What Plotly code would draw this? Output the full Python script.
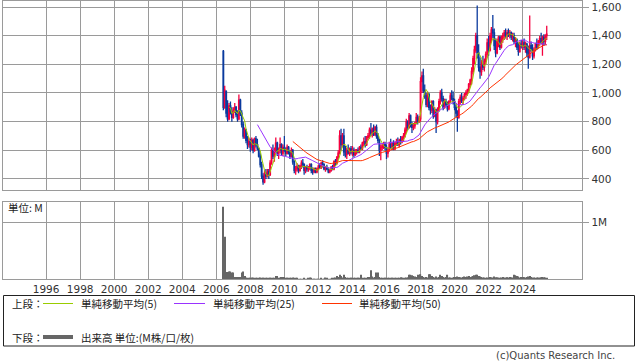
import pandas as pd
import plotly.graph_objects as go

# ---------------- data (monthly, Jun 2006 - Jun 2025) ----------------
start_month = "2006-06-01"
n_months = 229

opens = [
    # 2006 Jun-Dec
    1290, 900, 1010, 860, 820, 910, 870,
    # 2007
    830, 880, 900, 850, 820, 950, 860, 780, 700, 740, 670, 640,
    # 2008
    660, 620, 670, 600, 680, 640, 610, 560, 500, 420, 380, 440,
    # 2009
    420, 450, 430, 510, 600, 560, 590, 650, 580, 600, 640, 580,
    # 2010
    620, 600, 580, 620, 590, 560, 600, 520, 460, 470, 490, 460,
    # 2011
    490, 510, 500, 460, 480, 470, 480, 500, 460, 450, 470, 450,
    # 2012
    470, 490, 480, 510, 500, 470, 480, 470, 450, 460, 480, 470,
    # 2013
    520, 510, 550, 580, 700, 640, 700, 590, 570, 600, 580, 610,
    # 2014
    590, 600, 570, 590, 600, 590, 620, 610, 650, 660, 640, 690,
    # 2015
    700, 740, 720, 750, 710, 760, 700, 670, 600, 620, 630, 640,
    # 2016
    620, 580, 600, 640, 620, 650, 610, 650, 660, 640, 670, 660,
    # 2017
    690, 700, 740, 800, 760, 840, 780, 760, 770, 790, 830, 800,
    # 2018
    820, 1080, 1120, 1020, 980, 920, 990, 900, 880, 940, 840, 880,
    # 2019
    800, 880, 940, 1000, 960, 900, 940, 920, 890, 940, 980, 960,
    # 2020
    940, 900, 860, 830, 940, 970, 950, 960, 990, 1000, 1020, 1060,
    # 2021
    1090, 1150, 1240, 1300, 1400, 1280, 1180, 1150, 1200, 1180, 1220, 1270,
    # 2022
    1350, 1300, 1400, 1440, 1420, 1330, 1280, 1360, 1390, 1320, 1380, 1400,
    # 2023
    1420, 1400, 1420, 1410, 1420, 1390, 1400, 1360, 1370, 1320, 1290, 1340,
    # 2024
    1330, 1350, 1320, 1340, 1300, 1250, 1330, 1310, 1260, 1300, 1340, 1320,
    # 2025 Jan-Jun
    1360, 1380, 1350, 1390, 1360, 1400,
]
highs = [
    1300, 1050, 1020, 950, 930, 940, 900,
    900, 930, 910, 880, 990, 960, 880, 800, 760, 750, 700, 690,
    680, 690, 680, 690, 700, 680, 620, 580, 520, 440, 460, 470,
    470, 470, 530, 620, 640, 620, 690, 660, 620, 690, 650, 640,
    700, 620, 640, 630, 600, 620, 610, 530, 490, 510, 500, 500,
    530, 540, 510, 490, 500, 490, 510, 510, 480, 480, 480, 480,
    500, 510, 520, 530, 510, 490, 500, 480, 470, 490, 500, 530,
    540, 560, 600, 740, 750, 720, 750, 630, 620, 640, 620, 630,
    630, 620, 610, 610, 620, 630, 640, 660, 690, 700, 700, 720,
    760, 790, 760, 780, 770, 780, 720, 680, 640, 650, 660, 660,
    640, 620, 660, 680, 660, 670, 660, 680, 690, 680, 700, 700,
    720, 760, 820, 810, 860, 850, 800, 790, 800, 860, 850, 840,
    1110, 1150, 1170, 1060, 1000, 1010, 1000, 920, 950, 950, 900, 890,
    900, 960, 1020, 1030, 980, 960, 960, 940, 950, 1000, 1020, 1010,
    960, 920, 880, 960, 990, 1000, 980, 1000, 1020, 1030, 1070, 1100,
    1180, 1260, 1330, 1420, 1610, 1340, 1250, 1230, 1260, 1240, 1290, 1380,
    1400, 1420, 1460, 1545, 1450, 1380, 1380, 1400, 1400, 1400, 1420, 1440,
    1450, 1440, 1450, 1440, 1430, 1420, 1420, 1390, 1380, 1350, 1360, 1370,
    1370, 1380, 1360, 1350, 1330, 1540, 1360, 1340, 1320, 1350, 1380, 1370,
    1400, 1420, 1400, 1410, 1410, 1470,
]
lows = [
    880, 890, 830, 800, 810, 850, 800,
    820, 860, 830, 800, 810, 840, 760, 680, 680, 650, 610, 620,
    590, 600, 580, 590, 620, 600, 550, 480, 400, 360, 370, 400,
    410, 400, 420, 500, 540, 520, 570, 560, 540, 580, 560, 560,
    590, 560, 570, 570, 540, 550, 500, 440, 430, 450, 440, 450,
    470, 480, 430, 440, 450, 450, 460, 440, 430, 440, 440, 440,
    460, 470, 470, 480, 460, 450, 460, 440, 440, 450, 460, 460,
    490, 500, 540, 570, 600, 620, 560, 550, 540, 570, 560, 570,
    560, 550, 560, 570, 580, 580, 600, 600, 630, 620, 630, 670,
    680, 700, 690, 700, 700, 680, 650, 560, 530, 600, 610, 600,
    540, 550, 590, 610, 600, 600, 600, 630, 630, 620, 640, 650,
    660, 690, 720, 740, 750, 760, 720, 740, 750, 780, 780, 790,
    800, 1000, 1000, 960, 900, 900, 880, 850, 860, 820, 830, 720,
    780, 870, 920, 940, 880, 890, 900, 870, 880, 930, 950, 920,
    880, 830, 730, 820, 920, 930, 920, 950, 960, 980, 1000, 1040,
    1060, 1130, 1200, 1280, 1240, 1150, 1100, 1120, 1160, 1150, 1200, 1250,
    1260, 1290, 1350, 1380, 1300, 1250, 1270, 1320, 1300, 1310, 1350, 1370,
    1380, 1370, 1390, 1380, 1370, 1360, 1340, 1320, 1300, 1260, 1280, 1310,
    1300, 1300, 1280, 1250, 1170, 1240, 1290, 1230, 1240, 1290, 1300, 1310,
    1330, 1340, 1260, 1330, 1340, 1370,
]
closes = [
    900, 1020, 860, 820, 910, 870, 830,
    880, 900, 850, 820, 950, 860, 780, 700, 740, 670, 640, 660,
    620, 670, 600, 680, 640, 610, 560, 500, 420, 380, 440, 420,
    450, 430, 510, 600, 560, 590, 650, 580, 600, 640, 580, 620,
    600, 580, 620, 590, 560, 600, 520, 460, 470, 490, 460, 490,
    510, 500, 460, 480, 470, 480, 500, 460, 450, 470, 450, 470,
    490, 480, 510, 500, 470, 480, 470, 450, 460, 480, 470, 520,
    510, 550, 580, 700, 640, 700, 590, 570, 600, 580, 610, 590,
    600, 570, 590, 600, 590, 620, 610, 650, 660, 640, 690, 700,
    740, 720, 750, 710, 760, 700, 670, 600, 620, 630, 640, 620,
    580, 600, 640, 620, 650, 610, 650, 660, 640, 670, 660, 690,
    700, 740, 800, 760, 840, 780, 760, 770, 790, 830, 800, 820,
    1080, 1120, 1020, 980, 920, 990, 900, 880, 940, 840, 880, 800,
    880, 940, 1000, 960, 900, 940, 920, 890, 940, 980, 960, 940,
    900, 860, 830, 940, 970, 950, 960, 990, 1000, 1020, 1060, 1090,
    1150, 1240, 1300, 1400, 1280, 1180, 1150, 1200, 1180, 1220, 1270, 1350,
    1300, 1400, 1440, 1420, 1330, 1280, 1360, 1390, 1320, 1380, 1400, 1420,
    1400, 1420, 1410, 1420, 1390, 1400, 1360, 1370, 1320, 1290, 1340, 1330,
    1350, 1320, 1340, 1280, 1250, 1330, 1310, 1260, 1300, 1340, 1320, 1360,
    1380, 1350, 1390, 1360, 1400, 1410,
]
volumes_k = [
    1280, 750, 130, 130, 140, 140, 120,
    120, 40, 40, 40, 40, 40, 120, 140, 60, 15, 15, 15,
    15, 30, 15, 15, 15, 12, 20, 30, 15, 12, 12, 12,
    12, 12, 15, 20, 15, 20, 60, 60, 25, 20, 40, 40,
    40, 25, 15, 15, 12, 15, 30, 15, 12, 12, 10, 10,
    10, 10, 15, 10, 10, 12, 30, 12, 10, 10, 10, 10,
    10, 10, 12, 10, 10, 30, 12, 10, 10, 10, 12, 25,
    30, 60, 40, 80, 60, 30, 80, 40, 25, 20, 20, 15,
    15, 15, 12, 12, 15, 20, 80, 25, 20, 20, 20, 40,
    40, 160, 50, 30, 40, 120, 120, 40, 25, 20, 15, 15,
    20, 15, 15, 12, 12, 15, 20, 15, 15, 20, 35, 20,
    20, 25, 30, 35, 80, 80, 70, 60, 50, 40, 80, 30,
    90, 60, 40, 30, 40, 30, 90, 90, 60, 40, 30, 50,
    30, 40, 80, 60, 40, 30, 40, 80, 30, 30, 20, 20,
    40, 40, 50, 40, 35, 30, 40, 50, 40, 50, 60, 40,
    50, 60, 70, 80, 80, 60, 50, 40, 30, 30, 20, 30,
    30, 40, 35, 30, 50, 35, 30, 30, 25, 30, 40, 30,
    30, 35, 30, 40, 35, 30, 80, 70, 60, 50, 30, 40,
    40, 35, 30, 40, 50, 60, 40, 30, 30, 25, 30, 30,
    30, 30, 40, 35, 30, 25,
]
ma_periods = [5, 25, 50]
ma_labels = ["単純移動平均(5)", "単純移動平均(25)", "単純移動平均(50)"]
price_ticks = [400, 600, 800, 1000, 1200, 1400, 1600]
year_ticks = list(range(1996, 2025, 2))

# ---------------- styling ----------------
W, H = 638, 362
RED = "#f5003d"
BLUE = "#0a3a9e"
MA_COLORS = ["#99cc00", "#9933ff", "#ff3300"]
VOL_COLOR = "#666666"
GRID = "#9a9a9a"
TXT = "#333333"
NUM_FONT = "DejaVu Sans"
JP_FONT = "Noto Sans CJK JP"


def px_x(p):
    return p / W


def px_y(p):
    return 1 - p / H


dates = pd.date_range(start_month, periods=n_months, freq="MS")
close_s = pd.Series(closes, index=dates)
vol = [v * 1000 for v in volumes_k]
year_vals = [f"{y}-01-01" for y in year_ticks]
year_text = [str(y) for y in year_ticks]

fig = go.Figure()
fig.add_trace(go.Candlestick(
    x=dates, open=opens, high=highs, low=lows, close=closes,
    increasing=dict(line=dict(color=RED, width=1.3), fillcolor=RED),
    decreasing=dict(line=dict(color=BLUE, width=1.3), fillcolor=BLUE),
    whiskerwidth=0, showlegend=False, xaxis="x", yaxis="y",
))
for p, c in zip(ma_periods, MA_COLORS):
    ma = close_s.rolling(p).mean()
    fig.add_trace(go.Scatter(x=dates, y=ma.values, mode="lines",
                             line=dict(color=c, width=1), showlegend=False,
                             xaxis="x", yaxis="y"))
fig.add_trace(go.Bar(x=dates, y=vol, marker=dict(color=VOL_COLOR, line=dict(width=0)),
                     showlegend=False, xaxis="x2", yaxis="y2"))

x_range = ["1993-06-21", "2027-07-04"]
x_dom = [px_x(3), px_x(582.3)]
common_x = dict(type="date", range=x_range, domain=x_dom, showgrid=True, gridcolor=GRID,
                gridwidth=1, tickmode="array", tickvals=year_vals, ticktext=year_text,
                showline=True, mirror=True,
                linecolor=GRID, linewidth=1, ticks="", zeroline=False)
common_y = dict(side="right", showgrid=True, gridcolor=GRID, gridwidth=1, showline=True,
                mirror=True, linecolor=GRID, linewidth=1, ticks="outside", ticklen=6,
                tickcolor=GRID, tickwidth=1, zeroline=False,
                tickfont=dict(family=NUM_FONT, size=10.5, color=TXT))

fig.update_layout(
    width=W, height=H, autosize=False,
    margin=dict(l=0, r=0, t=0, b=0),
    paper_bgcolor="white", plot_bgcolor="white",
    bargap=0.05, showlegend=False,
    xaxis=dict(**common_x, anchor="y", showticklabels=False, rangeslider=dict(visible=False)),
    yaxis=dict(**common_y, domain=[px_y(190), px_y(1)], range=[323, 1642],
               tickvals=price_ticks, tickformat=","),
    xaxis2=dict(**common_x, anchor="y2", showticklabels=True,
                tickfont=dict(family=NUM_FONT, size=10.5, color=TXT)),
    yaxis2=dict(**common_y, domain=[px_y(279.3), px_y(201.7)], range=[0, 1.371e6],
                tickvals=[1e6], ticktext=["1M"]),
)

shapes = []
annotations = []
# volume unit label
annotations.append(dict(x=px_x(6), y=px_y(207), xref="paper", yref="paper", text="単位: M",
                        showarrow=False, xanchor="left", yanchor="middle",
                        font=dict(family=JP_FONT, size=10.5, color="#222")))
# legend box
shapes.append(dict(type="rect", xref="paper", yref="paper", x0=px_x(3.5), x1=px_x(634.5),
                   y0=px_y(346), y1=px_y(295.5), line=dict(color="#222", width=1)))
row1, row2 = 303.5, 337
annotations.append(dict(x=px_x(10), y=px_y(row1), xref="paper", yref="paper", text="上段：",
                        showarrow=False, xanchor="left", yanchor="middle",
                        font=dict(family=JP_FONT, size=10.5, color="#222")))
leg_lines = [(43, 73, 79), (174, 205, 211), (322, 352, 357)]
for (l0, l1, tx), c, lab in zip(leg_lines, MA_COLORS, ma_labels):
    shapes.append(dict(type="line", xref="paper", yref="paper", x0=px_x(l0), x1=px_x(l1),
                       y0=px_y(row1), y1=px_y(row1), line=dict(color=c, width=1)))
    annotations.append(dict(x=px_x(tx), y=px_y(row1), xref="paper", yref="paper", text=lab,
                            showarrow=False, xanchor="left", yanchor="middle",
                            font=dict(family=JP_FONT, size=10.5, color="#222")))
annotations.append(dict(x=px_x(10), y=px_y(row2), xref="paper", yref="paper", text="下段：",
                        showarrow=False, xanchor="left", yanchor="middle",
                        font=dict(family=JP_FONT, size=10.5, color="#222")))
shapes.append(dict(type="line", xref="paper", yref="paper", x0=px_x(43), x1=px_x(73),
                   y0=px_y(row2), y1=px_y(row2), line=dict(color=VOL_COLOR, width=4)))
annotations.append(dict(x=px_x(79), y=px_y(row2), xref="paper", yref="paper",
                        text="出来高 単位:(M株/口/枚)", showarrow=False, xanchor="left",
                        yanchor="middle", font=dict(family=JP_FONT, size=10.5, color="#222")))
annotations.append(dict(x=px_x(617), y=px_y(355.5), xref="paper", yref="paper",
                        text="(c)Quants Research Inc.", showarrow=False, xanchor="right",
                        yanchor="middle", font=dict(family=NUM_FONT, size=10, color="#444")))
fig.update_layout(shapes=shapes, annotations=annotations)

fig.write_html("out.html", config={"displayModeBar": False},
               post_script="document.body.style.margin='0px';document.body.style.overflow='hidden';")
